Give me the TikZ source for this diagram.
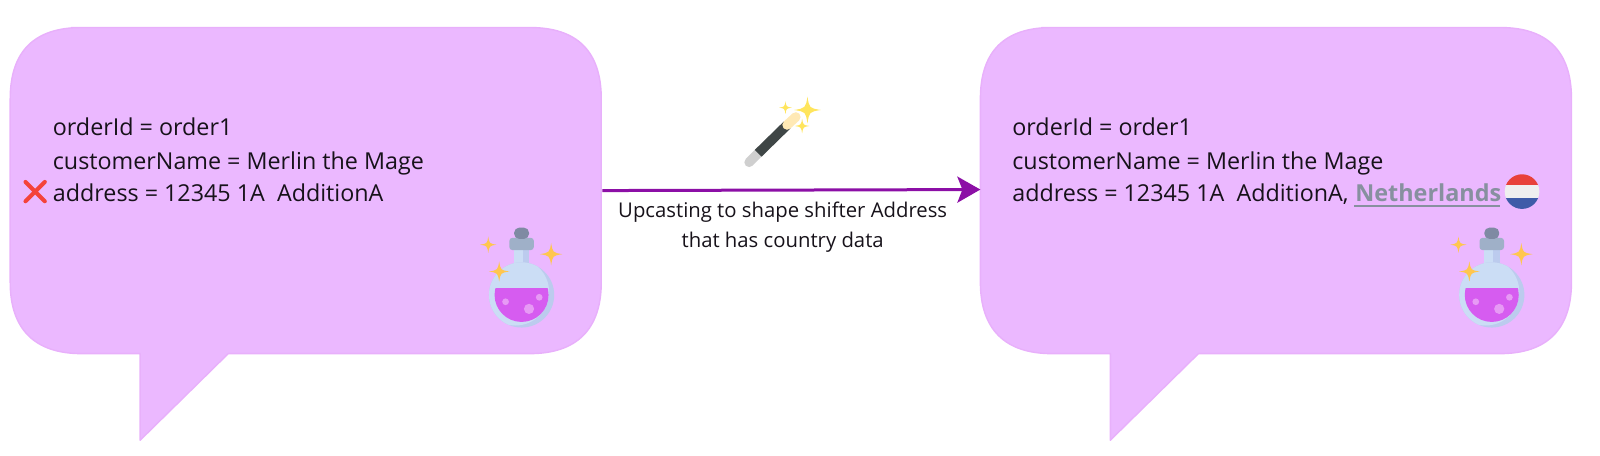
\documentclass[tikz,border=0pt]{standalone}
\usepackage{fontspec}
\setmainfont{Open Sans}
\usetikzlibrary{arrows.meta}
\definecolor{bubblefill}{HTML}{EBB8FF}
\definecolor{bubbleline}{HTML}{E8B0FB}
\definecolor{arrowpurple}{HTML}{8C0FA6}
\definecolor{ink}{HTML}{17121A}
\definecolor{gold}{HTML}{FFC64F}
\definecolor{glass}{HTML}{CBDDF5}
\definecolor{glassdark}{HTML}{BCCBEE}
\definecolor{potion}{HTML}{D65CF0}
\definecolor{potionlight}{HTML}{E79AF5}
\definecolor{collar}{HTML}{9FB0C8}
\definecolor{capgrey}{HTML}{7F8AA3}
\definecolor{linkgrey}{HTML}{87909F}
\definecolor{wandstar}{HTML}{FFE55C}
\definecolor{wanddark}{HTML}{3F4646}
\definecolor{wandcream}{HTML}{FFE9B5}
\definecolor{wandbase}{HTML}{CFCFCF}
\definecolor{flagred}{HTML}{E8413A}
\definecolor{flagwhite}{HTML}{EFEFEF}
\definecolor{flagblue}{HTML}{3E5BA8}
\definecolor{crossred}{HTML}{F4433A}
\newcommand{\sparkat}[4]{\fill[#4,shift={(#1,#2)}] (0,-#3) .. controls (0.14*#3,-0.14*#3) .. (#3,0) .. controls (0.14*#3,0.14*#3) .. (0,#3) .. controls (-0.14*#3,0.14*#3) .. (-#3,0) .. controls (-0.14*#3,-0.14*#3) .. (0,-#3) -- cycle;}
\newcommand{\bubbleshape}[1]{%
  \begin{scope}[shift={(#1,0)}]
    \draw[bubblefill shape] (70,27) -- (520,27) .. controls (566,27) and (590,50) .. (590,97)
      -- (590,277) .. controls (590,323) and (566,347) .. (520,347)
      -- (224,347) -- (137.5,432) -- (137.5,347) -- (80,347)
      .. controls (34,347) and (10,323) .. (10,277) -- (10,97) .. controls (10,50) and (34,27) .. (80,27) -- cycle;
  \end{scope}}
\newcommand{\flaskat}[2]{%
  \begin{scope}[shift={(#1,#2)}]
    \fill[glass] (-7.7,-46) rectangle (7.7,-20);
    \fill[glassdark] (1,-46) rectangle (7.7,-24);
    \fill[glassdark] (0,0) circle (32);
    \begin{scope}
      \clip (0,0) circle (32);
      \fill[glass] (-6,-3) circle (33);
    \end{scope}
    \begin{scope}
      \clip (0,0) circle (26.5);
      \fill[potion] (-30,-6.7) rectangle (30,30);
    \end{scope}
    \fill[potionlight] (-15.7,6.7) circle (3.3) (17.3,2.3) circle (3.3) (7.3,13.7) circle (5);
    \fill[collar,rounded corners=1.5] (-12,-56) rectangle (12,-44);
    \fill[capgrey,rounded corners=2.5] (-7.3,-66) rectangle (7.3,-55);
    \sparkat{-32.7}{-49.3}{8}{gold}
    \sparkat{29}{-40}{11}{gold}
    \sparkat{-22}{-23}{10}{gold}
  \end{scope}}
\tikzset{
  bubblefill shape/.style={fill=bubblefill,draw=bubbleline,line width=0.7pt,line join=round},
  bodytext/.style={anchor=base west,inner sep=0pt,text=ink,font=\fontsize{11.65}{14}\selectfont},
  captiontext/.style={anchor=base,inner sep=0pt,text=ink,font=\fontsize{10.15}{12}\selectfont},
  connector/.style={draw=arrowpurple,line width=1.5pt,-{Stealth[length=11.5pt,width=13pt,inset=2.5pt]}},
}
\begin{document}
\begin{tikzpicture}[x=0.50955pt,y=-0.50955pt]
\useasboundingbox (0,0) rectangle (1570,447.4);
\bubbleshape{0}
\bubbleshape{952}
\coordinate (leftedge) at (591,187);
\coordinate (rightedge) at (962,186);
\draw[connector] (leftedge) -- (rightedge);
% left text
\node[bodytext] (la) at (51.5,133) {orderId = order1};
\node[bodytext] (lb) at (51.5,166) {customerName = Merlin the Mage};
\node[bodytext] (lc) at (51.5,198) {address = 12345 1A\ \ AdditionA};
\draw[line width=2pt,draw=crossred,line cap=round] (25,178.5) -- (44,197.5) (44,178.5) -- (25,197.5);
% right text
\node[bodytext] (ra) at (993,133) {orderId = order1};
\node[bodytext] (rb) at (993,166) {customerName = Merlin the Mage};
\node[bodytext] (rc) at (993,198) {address = 12345 1A\ \ AdditionA,};
\node[bodytext,text=linkgrey,font=\fontsize{11.7}{14}\selectfont\bfseries] (rd) at (1329.5,198) {Netherlands};
\draw[linkgrey,line width=1pt] (1329,202) -- (1472,202);
% caption
\node[captiontext] (cap1) at (768,213) {Upcasting to shape shifter Address};
\node[captiontext] (cap2) at (768,243) {that has country data};
% flag
\begin{scope}
  \clip (1493.5,188) circle (17);
  \fill[flagred] (1470,168) rectangle (1516,182);
  \fill[flagwhite] (1470,182) rectangle (1516,194.5);
  \fill[flagblue] (1470,194.5) rectangle (1516,210);
\end{scope}
% flasks
\flaskat{511.8}{289.4}
\flaskat{1463.8}{289.4}
% wand
\begin{scope}[shift={(686.7,83.4)},scale=0.327]
  \draw[line width=4.8pt,draw=wandbase,line cap=round] (148,232) -- (175,205);
  \draw[line width=4.8pt,draw=wanddark] (175,205) -- (262,120);
  \draw[line width=4.8pt,draw=wandcream,line cap=round] (262,120) -- (288,96);
  \sparkat{323}{75}{40}{wandstar}
  \sparkat{257}{68}{19}{wandstar}
  \sparkat{307}{123}{22}{wandstar}
\end{scope}
\end{tikzpicture}
\end{document}
